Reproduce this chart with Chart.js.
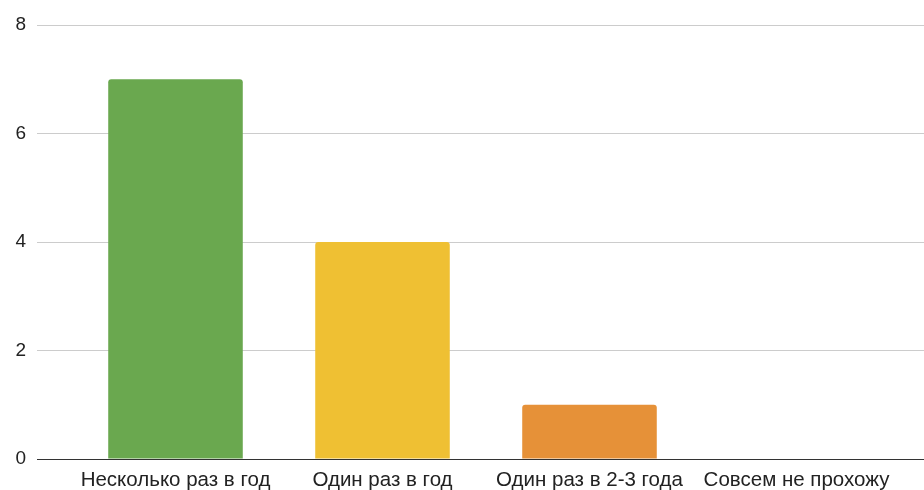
<!DOCTYPE html>
<html>
<head>
<meta charset="utf-8">
<script src="https://cdn.jsdelivr.net/npm/chart.js@4"></script>
<style>
html,body{margin:0;padding:0;background:#fff;overflow:hidden;}
#wrap{width:924px;height:490px;position:relative;}
</style>
</head>
<body>
<div id="wrap"><canvas id="c"></canvas></div>
<script>
const categories = ["Несколько раз в год", "Один раз в год", "Один раз в 2-3 года", "Совсем не прохожу"];
const counts = [7, 4, 1, 0];
const barColors = ["#6aa84f", "#efc033", "#e69138", "#6aa84f"];
const yTicks = [0, 2, 4, 6, 8];

const gridColor = ctx => (ctx.tick && ctx.tick.value === 0) ? '#333333' : '#cccccc';

new Chart(document.getElementById('c'), {
  type: 'bar',
  data: {
    labels: categories,
    datasets: [{
      data: counts,
      backgroundColor: barColors,
      borderRadius: {topLeft: 3, topRight: 3, bottomLeft: 0, bottomRight: 0},
      borderSkipped: 'bottom',
      barPercentage: 0.65,
      categoryPercentage: 1.0
    }]
  },
  options: {
    responsive: true,
    maintainAspectRatio: false,
    animation: false,
    layout: {padding: {top: 25, bottom: 0, left: 0, right: 0}},
    plugins: {legend: {display: false}, tooltip: {enabled: false}},
    scales: {
      x: {
        grid: {display: false, drawTicks: false},
        border: {display: false},
        afterFit: s => { s.height = 31; },
        ticks: {
          color: '#222222',
          font: {family: '"Liberation Sans", Arial, sans-serif', size: 20.5},
          padding: 9,
          maxRotation: 0,
          autoSkip: false
        }
      },
      y: {
        min: 0, max: 8,
        afterBuildTicks: s => { s.ticks = yTicks.map(v => ({value: v})); },
        afterFit: s => { s.width = 72; },
        border: {display: false},
        grid: {color: gridColor, lineWidth: 1, tickLength: 35, tickColor: gridColor},
        ticks: {
          color: '#222222',
          font: {family: '"Liberation Sans", Arial, sans-serif', size: 19},
          padding: 11
        }
      },
      y2: {
        position: 'right',
        min: 0, max: 8,
        afterBuildTicks: s => { s.ticks = yTicks.map(v => ({value: v})); },
        afterFit: s => { s.width = 24; },
        border: {display: false},
        grid: {color: gridColor, lineWidth: 1, tickLength: 26, drawOnChartArea: false, tickColor: gridColor},
        ticks: {display: false}
      }
    }
  }
});
</script>
</body>
</html>
